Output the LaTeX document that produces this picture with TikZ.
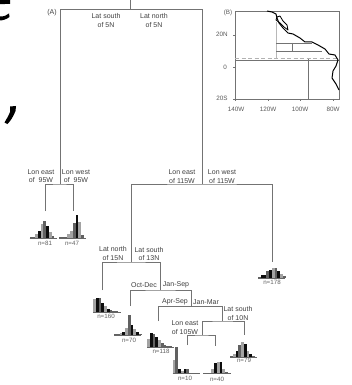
\documentclass[tikz,border=0pt]{standalone}
\usepackage{fontspec}
\setmainfont{Liberation Sans}
\colorlet{L}{black!36}
\colorlet{G}{black!62}
\colorlet{K}{black!95}
\colorlet{linecol}{black!55}
\tikzset{
  edge/.style={draw=linecol,line width=0.85pt},
  lab/.style={inner sep=0pt,align=center,text=black!75,font=\fontsize{7}{8.6}\selectfont},
  cnt/.style={inner sep=0pt,text=black!62,font=\fontsize{6.2}{7}\selectfont},
  axlab/.style={inner sep=0pt,text=black!65,font=\fontsize{6.3}{7}\selectfont},
  mapl/.style={draw=black!55,line width=0.75pt},
  frag/.style={fill=black,draw=none}
}
\newcommand{\histo}[3]{%
  \foreach \hh/\cc [count=\ii from 0] in {#3}{
    \fill[\cc] ({#1+2.75*\ii},#2) rectangle ({#1+2.75*\ii+2.75},{#2-\hh});
  }
  \draw[black!60,line width=0.3pt] (#1,#2) -- ++(27,0);
}
\begin{document}
\begin{tikzpicture}[x=1pt,y=-1pt]
\useasboundingbox[fill=white] (0,0) rectangle (352,385);
% cut-off glyphs at the left edge
\fill[frag] (0,0) -- (10,0) -- (10,3.8) -- (0,4.2) -- cycle;
\fill[frag] (0,16.5) .. controls (4,16.5) and (7,15.5) .. (9,13.5) -- (9.5,17) .. controls (7,19) and (3,20.5) .. (0,20.5) -- cycle;
\fill[frag] (10,106.5) -- (16,106) -- (15.5,111) .. controls (13.5,116) and (11,120.5) .. (7.5,124) -- (4.5,122.5) .. controls (6.5,119) and (8.5,116) .. (10,112) -- cycle;

% tree junction points
\coordinate (top) at (130.5,0);
\coordinate (r0) at (130.5,9.5);
\coordinate (j1) at (60,184);
\coordinate (j2) at (202,184);
\coordinate (j3) at (131,262);
\coordinate (j4) at (160,290);
\coordinate (j5) at (191,306.5);
\coordinate (j6) at (222,321);
\coordinate (j7) at (202,335);
\coordinate (t81) at (45,211);
\coordinate (t47) at (73,211);
\coordinate (t178) at (272,262);
\coordinate (t160) at (102,290);
\coordinate (t70) at (130,306);
\coordinate (t118) at (158,321);
\coordinate (t10) at (187,345);
\coordinate (t40) at (215,346);
\coordinate (t79) at (244,335);

\draw[edge] (top) -- (r0);
\draw[edge] (j1) |- (r0) -| (j2);
\draw[edge] (t81) |- (j1) -| (t47);
\draw[edge] (j3) |- (j2) -| (t178);
\draw[edge] (t160) |- (j3) -| (j4);
\draw[edge] (t70) |- (j4) -| (j5);
\draw[edge] (t118) |- (j5) -| (j6);
\draw[edge] (j7) |- (j6) -| (t79);
\draw[edge] (t10) |- (j7) -| (t40);

% labels
\node[lab] (A) at (52,13) {(A)};
\node[lab] (l1) at (106,20.5) {Lat south\\of 5N};
\node[lab] (l2) at (154,20.5) {Lat north\\of 5N};
\node[lab] (l3) at (41,176) {Lon east\\of\ \ 95W};
\node[lab] (l4) at (76,176) {Lon west\\of\ \ 95W};
\node[lab] (l5) at (182,176.5) {Lon east\\of 115W};
\node[lab] (l6) at (222,176.5) {Lon west\\of 115W};
\node[lab] (l7) at (113,253.5) {Lat north\\of 15N};
\node[lab] (l8) at (149,254) {Lat south\\of 13N};
\node[lab] (l9) at (144,285) {Oct-Dec};
\node[lab] (l10) at (176,285) {Jan-Sep};
\node[lab] (l11) at (175,302) {Apr-Sep};
\node[lab] (l12) at (206,302) {Jan-Mar};
\node[lab] (l13) at (185,327.5) {Lon east\\of 105W};
\node[lab] (l14) at (238,313.5) {Lat south\\of 10N};

% histograms
\histo{29.5}{238}{1/G,1/G,4/L,7/K,14/L,17/G,12/K,6/L,2/G}
\histo{59}{238}{0.7/G,1/G,1.5/G,4/L,7/L,15/G,23/K,16/L,3/G}
\histo{93}{312}{13/L,14/K,14/G,9/K,6/L,3/K,2/G,1.2/G,0.8/G,0.5/G}
\histo{114}{335}{0.7/G,1/G,2/L,3/K,7/L,20/G,10/K,6/L,3/K,1/G}
\histo{147}{347}{8/L,14/K,13/G,10/K,7/L,4/G,2/G,1/G,0.7/G}
\histo{172.5}{373.5}{14/L,27/G,5/K,3/L,5/K,5/G,1/G,0.7/G,0.7/G}
\histo{203}{373.5}{0.7/G,1/G,1/G,5/L,11/K,12/L,12/K,5/L,2/G,0.7/G}
\histo{230}{357}{1/G,3/L,6/K,12/G,15/L,13/K,6/L,3/K,1/G}
\histo{258}{278}{1/G,3/K,3/K,7/G,8/K,10/L,10/G,7/K,4/L,2/G}
\node[cnt] (n81) at (45,243) {n=81};
\node[cnt] (n47) at (72,243) {n=47};
\node[cnt] (n160) at (106,316) {n=160};
\node[cnt] (n70) at (129,340) {n=70};
\node[cnt] (n118) at (161,351.5) {n=118};
\node[cnt] (n10) at (185,378) {n=10};
\node[cnt] (n40) at (217,379) {n=40};
\node[cnt] (n79) at (244,360) {n=79};
\node[cnt] (n178) at (272,282.5) {n=178};

% inset map
\draw[mapl,fill=white] (235,11) rectangle (339,99);
\foreach \xx in {235,268,300,333} \draw[mapl] (\xx,99) -- (\xx,101);
\foreach \yy in {35,67,99} \draw[mapl] (233,\yy) -- (235,\yy);
\node[axlab] (B) at (228,13) {(B)};
\node[axlab] (y20n) at (222,34.5) {20N};
\node[axlab] (y0) at (225,67) {0};
\node[axlab] (y20s) at (222,98.5) {20S};
\node[axlab] (x140) at (236,109) {140W};
\node[axlab] (x120) at (268,109) {120W};
\node[axlab] (x100) at (300,109) {100W};
\node[axlab] (x80) at (333,109) {80W};
\draw[black!28,line width=0.7pt] (276,22) -- (276,59);
\draw[black!55,line width=0.7pt] (276,43) -- (312,43);
\draw[black!55,line width=0.7pt] (276,51) -- (322,51);
\draw[black!55,line width=0.7pt] (292,43) -- (292,51);
\draw[black!55,line width=0.8pt] (308,59) -- (308,99);
\draw[black!55,line width=0.6pt] (235,60) -- (339,60);
\draw[black!30,line width=1.2pt,dash pattern=on 4pt off 2.5pt] (235,58.5) -- (339,58.5);
\draw[black,line width=1pt,line join=round]
  (267,11) -- (272,12) -- (276,14) -- (277,18) -- (279,23) -- (283,28) -- (288,33) -- (293,34) -- (300,38) -- (305,42) -- (312,42) -- (318,45) -- (325,49) -- (329,54) -- (335,55) -- (338,60) -- (336,66) -- (333,71) -- (332,78) -- (336,84) -- (339,90);
\draw[black,line width=0.8pt,line join=round]
  (276,20) -- (277,17) -- (280,16) -- (283,21) -- (287,25) -- (288,30) -- (284,27) -- (280,23) -- cycle;
\end{tikzpicture}
\end{document}
